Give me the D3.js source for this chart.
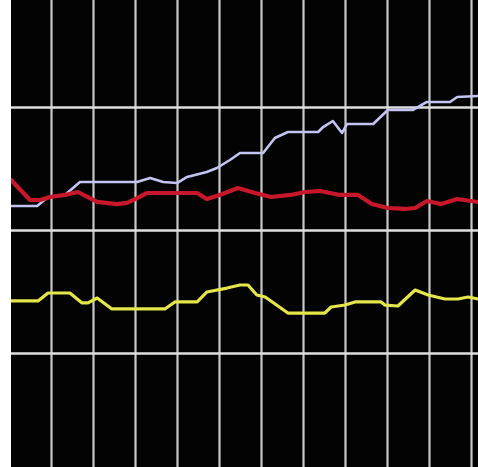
<!DOCTYPE html>
<html>
<head>
<meta charset="utf-8">
<script src="https://cdn.jsdelivr.net/npm/d3@7"></script>
<style>
  html, body { margin: 0; padding: 0; background: #ffffff; }
  svg { display: block; }
</style>
</head>
<body>
<div id="chart"></div>
<script>
// ---- data (x in time units, grid every 10; y in value units, grid every 10) ----
const xTicks = [0, 10, 20, 30, 40, 50, 60, 70, 80, 90, 100, 110];
const yTicks = [10, 20, 30];

const lavenderX = [0.5, 6.7, 9.3, 13.3, 16.9, 30.5, 33.6, 36.7, 40.0, 42.4, 47.1, 49.5, 52.6, 55.0, 60.5, 63.3, 66.4, 73.6, 74.8, 77.1, 79.3, 80.5, 86.7, 90.2, 96.2, 99.5, 105.0, 106.7, 111.7];
const lavenderY = [21.95, 21.95, 22.68, 22.85, 23.9, 23.9, 24.23, 23.9, 23.82, 24.31, 24.72, 25.04, 25.69, 26.26, 26.26, 27.48, 27.97, 27.97, 28.37, 28.86, 27.89, 28.62, 28.62, 29.76, 29.76, 30.41, 30.41, 30.81, 30.89];

const redX = [0.5, 5.0, 7.4, 9.8, 13.3, 16.4, 21.0, 25.7, 28.1, 30.5, 32.9, 40.7, 44.8, 47.1, 50.2, 54.5, 58.6, 62.4, 67.1, 70.5, 74.1, 78.8, 83.1, 86.4, 90.2, 94.3, 96.7, 99.5, 102.9, 106.7, 111.7];
const redY = [24.07, 22.44, 22.44, 22.68, 22.85, 23.09, 22.28, 22.11, 22.2, 22.6, 23.01, 23.01, 23.01, 22.52, 22.85, 23.41, 23.01, 22.68, 22.85, 23.09, 23.17, 22.85, 22.85, 22.11, 21.79, 21.71, 21.79, 22.36, 22.11, 22.52, 22.28];

const yellowX = [0.5, 6.9, 9.3, 14.5, 17.4, 18.8, 21.0, 24.5, 37.1, 39.5, 44.8, 47.1, 51.9, 55.0, 56.9, 59.0, 61.0, 66.4, 75.2, 76.7, 80.0, 82.4, 88.6, 89.5, 92.6, 96.7, 99.8, 103.8, 106.9, 109.3, 111.7];
const yellowY = [14.23, 14.23, 14.88, 14.88, 14.07, 14.07, 14.47, 13.58, 13.58, 14.15, 14.15, 14.96, 15.28, 15.53, 15.53, 14.72, 14.55, 13.25, 13.25, 13.74, 13.9, 14.15, 14.15, 13.9, 13.82, 15.12, 14.72, 14.39, 14.39, 14.55, 14.39];

const seriesNames = ["lavender", "red", "yellow"];
const seriesColors = ["#c4c4f2", "#c8182a", "#e4e64a"];
const seriesWidths = [2.6, 4.2, 3.2];

// ---- layout ----
const W = 478, H = 467;
const plotLeft = 11;

const svg = d3.select("#chart").append("svg")
  .attr("width", W).attr("height", H);

const x = d3.scaleLinear().domain([0, 110]).range([9, 471]);
const y = d3.scaleLinear().domain([0, 40]).range([476, -16]);

svg.append("defs").append("clipPath").attr("id", "plotClip")
  .append("rect").attr("x", plotLeft).attr("y", 0).attr("width", W - plotLeft).attr("height", H);

svg.append("defs").append("filter").attr("id", "soft")
  .append("feGaussianBlur").attr("stdDeviation", 0.5);

svg.append("rect").attr("x", plotLeft).attr("y", 0)
  .attr("width", W - plotLeft).attr("height", H).attr("fill", "#030303");

const plot = svg.append("g").attr("clip-path", "url(#plotClip)");

// vertical grid
const gx = plot.append("g").attr("transform", `translate(0,${H})`)
  .call(d3.axisBottom(x).tickValues(xTicks).tickSize(H).tickFormat(""));
gx.select(".domain").remove();
gx.selectAll(".tick line").attr("stroke", "#c9c9c9").attr("stroke-width", 2.2)
  .attr("transform", `translate(0,${-H}) `).attr("y1", 0).attr("y2", H);

// horizontal grid
const gy = plot.append("g").attr("transform", `translate(${plotLeft},0)`)
  .call(d3.axisRight(y).tickValues(yTicks).tickSize(W).tickFormat(""));
gy.select(".domain").remove();
gy.selectAll(".tick line").attr("stroke", "#dedede").attr("stroke-width", 2.4);

// lines
const seriesX = [lavenderX, redX, yellowX];
const seriesY = [lavenderY, redY, yellowY];
const line = d3.line().x(d => x(d[0])).y(d => y(d[1])).curve(d3.curveLinear);

seriesNames.forEach((name, i) => {
  const pts = d3.zip(seriesX[i], seriesY[i]);
  plot.append("path")
    .datum(pts)
    .attr("class", "series " + name)
    .attr("fill", "none")
    .attr("stroke", seriesColors[i])
    .attr("stroke-width", seriesWidths[i])
    .attr("stroke-linejoin", "round")
    .attr("stroke-linecap", "round")
    .attr("filter", "url(#soft)")
    .attr("d", line);
});
</script>
</body>
</html>
